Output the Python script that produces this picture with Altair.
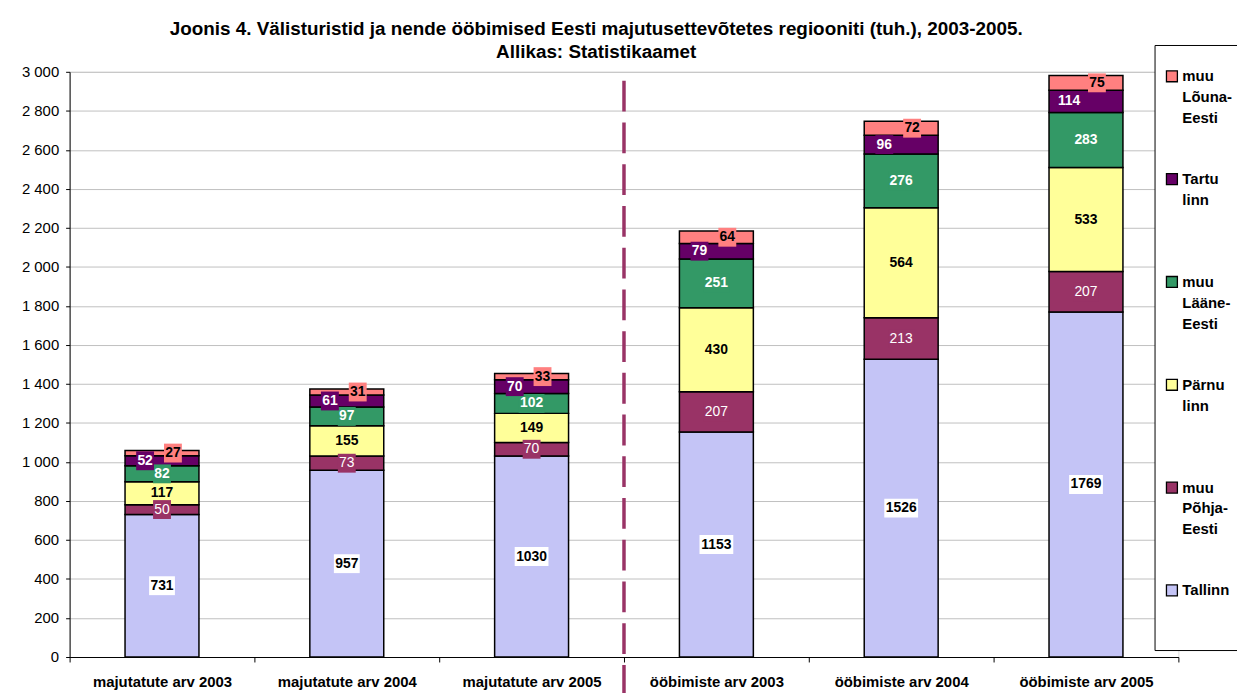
import altair as alt
import pandas as pd

F = "Liberation Sans"

categories = ["majutatute arv 2003", "majutatute arv 2004", "majutatute arv 2005",
              "ööbimiste arv 2003", "ööbimiste arv 2004", "ööbimiste arv 2005"]
series = ["Tallinn", "muu Põhja-Eesti", "Pärnu linn", "muu Lääne-Eesti", "Tartu linn", "muu Lõuna-Eesti"]
tallinn = [731, 957, 1030, 1153, 1526, 1769]
pohja = [50, 73, 70, 207, 213, 207]
parnu = [117, 155, 149, 430, 564, 533]
laane = [82, 97, 102, 251, 276, 283]
tartu = [52, 61, 70, 79, 96, 114]
louna = [27, 31, 33, 64, 72, 75]
y_ticks = list(range(0, 3001, 200))
title_lines = ["Joonis 4. Välisturistid ja nende ööbimised Eesti majutusettevõtetes regiooniti (tuh.), 2003-2005.",
               "Allikas: Statistikaamet"]

bar_colors = ["#C4C4F6", "#993366", "#FFFF99", "#339966", "#660066", "#FF8080"]
box_colors = ["#FFFFFF", "#993366", "#FFFF99", "#339966", "#660066", "#FF8080"]
text_colors = ["#000000", "#FFFFFF", "#000000", "#FFFFFF", "#FFFFFF", "#000000"]

values = [tallinn, pohja, parnu, laane, tartu, louna]
rows = []
for i, (s, vals) in enumerate(zip(series, values)):
    for c, v in zip(categories, vals):
        rows.append({"cat": c, "series": s, "value": v, "order": i})
df = pd.DataFrame(rows)

legend_order = list(reversed(series))
legend_colors = list(reversed(bar_colors))

W, H = 1116, 589

xscale = alt.Scale(domain=categories, paddingInner=0, paddingOuter=0)
ax_x = alt.Axis(title=None, labelFont=F, labelFontSize=15, labelFontWeight="bold", labelColor="black",
                labelAngle=0, labelPadding=13, tickBand="extent", tickSize=5, tickColor="black",
                domainColor="black", domainWidth=1, grid=False, labelLimit=0)
yscale = alt.Scale(domain=[0, 3000], nice=False, zero=True)
ax_y = alt.Axis(title=None, values=y_ticks, tickCount=len(y_ticks) + 4,
                labelExpr="replace(format(datum.value, ','), ',', ' ')",
                labelFont=F, labelFontSize=15, labelColor="black", labelPadding=7, tickSize=4,
                tickColor="black", domainColor="black", domainWidth=1, grid=True,
                gridColor="#C0C0C0", gridWidth=1, labelOverlap=False, labelFlush=False)

X = alt.X("cat:N", scale=xscale, axis=ax_x, title=None)

base = alt.Chart(df).transform_stack(
    stack="value", groupby=["cat"], as_=["y0", "y1"],
    sort=[alt.SortField(field="order", order="ascending")]
).transform_calculate(mid="(datum.y0 + datum.y1) / 2")

bars = base.mark_bar(stroke="black", strokeWidth=1.5, width=alt.RelativeBandSize(0.4)).encode(
    x=X,
    y=alt.Y("y0:Q", scale=yscale, axis=ax_y, title=None),
    y2="y1:Q",
    color=alt.Color("series:N", scale=alt.Scale(domain=legend_order, range=legend_colors),
                    legend=alt.Legend(
                        orient="none", legendX=1092, legendY=-27, title=" ", titleFontSize=10,
                        titlePadding=4, padding=10, strokeColor="black", fillColor="white",
                        symbolType="square", symbolSize=121, symbolStrokeColor="black",
                        symbolStrokeWidth=1.3, labelFont=F, labelFontSize=15, labelFontWeight="bold",
                        labelColor="black", labelOffset=3, rowPadding=44.5, labelLimit=200,
                        labelExpr="slice(split(replace(replace(datum.label, ' ', '\\n'), '-', '-\\n') + '\\n\\n', '\\n'), 0, 3)")),
)

box_expr = ("'M' + (-(length(toString(datum.value)) * 8 + 2) / 19) + ',-1L' + "
            "((length(toString(datum.value)) * 8 + 2) / 19) + ',-1L' + "
            "((length(toString(datum.value)) * 8 + 2) / 19) + ',1L' + "
            "(-(length(toString(datum.value)) * 8 + 2) / 19) + ',1Z'")


def label_layers(sel, xoff, weight):
    b = base.transform_filter(alt.FieldOneOfPredicate(field="series", oneOf=sel)).transform_calculate(
        lbl="toString(datum.value)", box=box_expr)
    pts = b.mark_point(filled=True, opacity=1, size=361, strokeWidth=0, xOffset=xoff).encode(
        x=X,
        y=alt.Y("mid:Q", scale=yscale, axis=ax_y, title=None),
        shape=alt.Shape("box:N", scale=None),
        color=alt.Color("series:N", scale=alt.Scale(domain=series, range=box_colors), legend=None),
    )
    txt = b.mark_text(font=F, fontSize=14, fontWeight=weight, xOffset=xoff, baseline="middle").encode(
        x=X,
        y=alt.Y("mid:Q", scale=yscale, axis=ax_y, title=None),
        text="lbl:N",
        color=alt.Color("series:N", scale=alt.Scale(domain=series, range=text_colors), legend=None),
    )
    return [pts, txt]


layers = [bars]
layers += label_layers(["Tallinn", "Pärnu linn", "muu Lääne-Eesti"], 0, "bold")
layers += label_layers(["muu Põhja-Eesti"], 0, "normal")
layers += label_layers(["Tartu linn"], -17, "bold")
layers += label_layers(["muu Lõuna-Eesti"], 11, "bold")

divider = alt.Chart(pd.DataFrame({"cat": [categories[3]]})).mark_rule(
    color="#993366", strokeWidth=3.5, strokeDash=[31, 11], strokeDashOffset=33
).encode(
    x=alt.X("cat:N", scale=xscale, axis=ax_x, bandPosition=0, title=None),
    y=alt.YDatum(datum=3000, scale=yscale, axis=ax_y, title=None),
    y2=alt.Y2Datum(datum=-200),
)
layers.append(divider)

chart = alt.layer(*layers).resolve_scale(color="independent").properties(
    width=W, height=H,
    title=alt.TitleParams(text=title_lines, font=F, fontSize=19, fontWeight="bold", color="black",
                          anchor="middle", dx=-28, lineHeight=24, offset=-18),
    padding={"left": 62, "top": 62, "right": 59, "bottom": 34},
    autosize=alt.AutoSizeParams(type="none"),
).configure_view(stroke=None).configure(
    background="white",
    style={"guide-label": {"lineHeight": 21}},
)

chart.save("out.html", embed_options={"renderer": "svg", "actions": False})
